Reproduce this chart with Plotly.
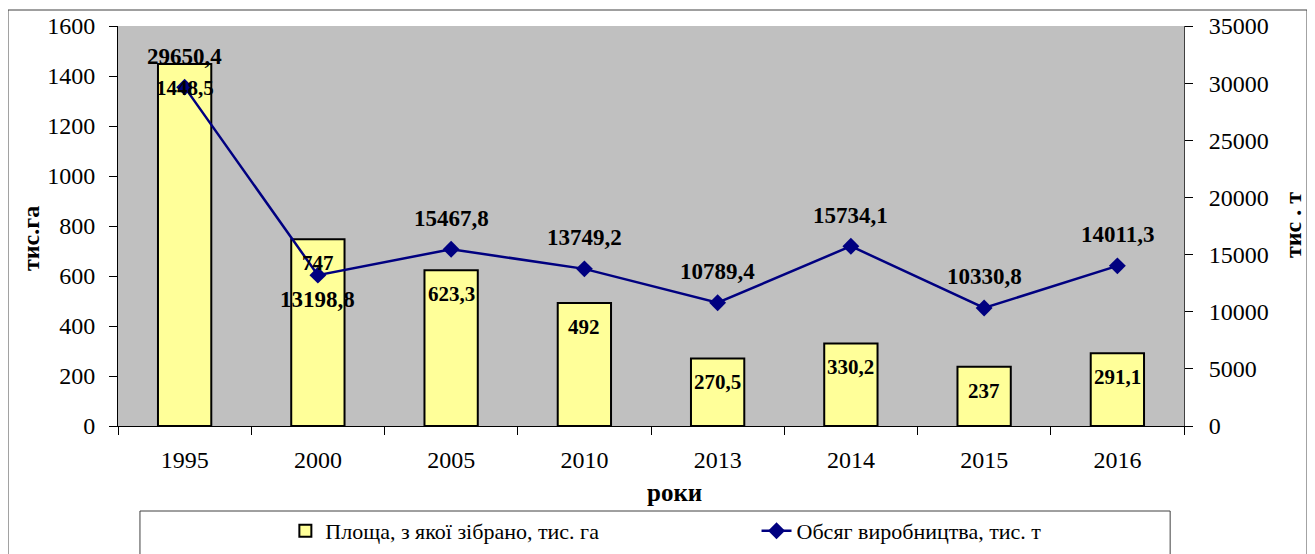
import plotly.graph_objects as go

years = ["1995", "2000", "2005", "2010", "2013", "2014", "2015", "2016"]
area = [1448.5, 747, 623.3, 492, 270.5, 330.2, 237, 291.1]
production = [29650.4, 13198.8, 15467.8, 13749.2, 10789.4, 15734.1, 10330.8, 14011.3]
prod_label_side = ["above", "below", "above", "above", "above", "above", "above", "above"]

area_name = "Площа, з якої зібрано, тис. га"
prod_name = "Обсяг виробництва, тис. т"
left_title = "тис.га"
right_title = "тис . т"
x_title = "роки"

FONT = "Liberation Serif, Times New Roman, serif"


def fmt(v):
    return f"{v:g}".replace(".", ",")


fig = go.Figure()
fig.add_trace(go.Bar(
    x=years, y=area, name=area_name, width=0.4,
    marker=dict(color="#FFFF99", line=dict(color="black", width=2)),
    yaxis="y", legend="legend",
))
fig.add_trace(go.Scatter(
    x=years, y=production, name=prod_name, mode="lines+markers",
    line=dict(color="#000080", width=2.5),
    marker=dict(symbol="diamond", size=13, color="#000080"),
    yaxis="y2", legend="legend2",
))

annotations = []
for i, v in enumerate(area):
    annotations.append(dict(x=i, y=v, xref="x", yref="y", text=fmt(v),
                            showarrow=False, yshift=-24, xanchor="center", yanchor="middle",
                            font=dict(family=FONT, size=21, color="black", weight="bold")))
for i, (v, side) in enumerate(zip(production, prod_label_side)):
    annotations.append(dict(x=i, y=v, xref="x", yref="y2", text=fmt(v),
                            showarrow=False, yshift=31 if side == "above" else -24,
                            xanchor="center", yanchor="middle",
                            font=dict(family=FONT, size=23, color="black", weight="bold")))

annotations += [
    dict(x=-0.0816, y=0.4675, xref="paper", yref="paper", text=left_title, textangle=-90,
         xanchor="center", yanchor="middle", showarrow=False,
         font=dict(family=FONT, size=24, color="black", weight="bold")),
    dict(x=1.1023, y=0.5025, xref="paper", yref="paper", text=right_title, textangle=-90,
         xanchor="center", yanchor="middle", showarrow=False,
         font=dict(family=FONT, size=24, color="black", weight="bold")),
    dict(x=0.5225, y=-0.165, xref="paper", yref="paper", text=x_title,
         xanchor="center", yanchor="middle", showarrow=False,
         font=dict(family=FONT, size=25, color="black", weight="bold")),
]

shapes = [
    dict(type="rect", xref="paper", yref="paper", x0=-0.1032, x1=1.1154, y0=-0.36, y1=1.04,
         line=dict(color="#404040", width=1), fillcolor="rgba(0,0,0,0)", layer="below"),
    dict(type="rect", xref="paper", yref="paper", x0=0.0206, x1=0.987, y0=-0.36, y1=-0.2125,
         line=dict(color="#404040", width=1), fillcolor="rgba(0,0,0,0)"),
]

legend_common = dict(orientation="h", xanchor="left", y=-0.2625, yanchor="middle",
                     font=dict(family=FONT, size=22, color="black"),
                     bgcolor="rgba(0,0,0,0)", borderwidth=0)

fig.update_layout(
    width=1307, height=546,
    margin=dict(l=110, r=131, t=18, b=128, pad=0, autoexpand=False),
    paper_bgcolor="white",
    plot_bgcolor="#C0C0C0",
    font=dict(family=FONT, size=24, color="black"),
    showlegend=True,
    legend=dict(x=0.157, **legend_common),
    legend2=dict(x=0.599, **legend_common),
    xaxis=dict(type="category", range=[-0.5, 7.5], autorange=False,
               tickson="boundaries", ticks="outside", ticklen=8,
               tickcolor="black", showline=True, linecolor="black", linewidth=1,
               showgrid=False, tickfont=dict(family=FONT, size=24), tickangle=0,
               ticklabelstandoff=12),
    yaxis=dict(range=[0, 1600], dtick=200, tickformat="d", ticks="outside", ticklen=8,
               tickcolor="black", showline=True, linecolor="black", linewidth=1,
               showgrid=False, zeroline=False, tickfont=dict(family=FONT, size=24),
               ticklabelstandoff=9),
    yaxis2=dict(range=[0, 35000], dtick=5000, tickformat="d", overlaying="y", side="right",
                ticks="outside", ticklen=8, tickcolor="black", showline=True,
                linecolor="#404040", linewidth=1, showgrid=False, zeroline=False,
                tickfont=dict(family=FONT, size=24), ticklabelstandoff=11),
    annotations=annotations,
    shapes=shapes,
)

fig.write_html("out.html")
